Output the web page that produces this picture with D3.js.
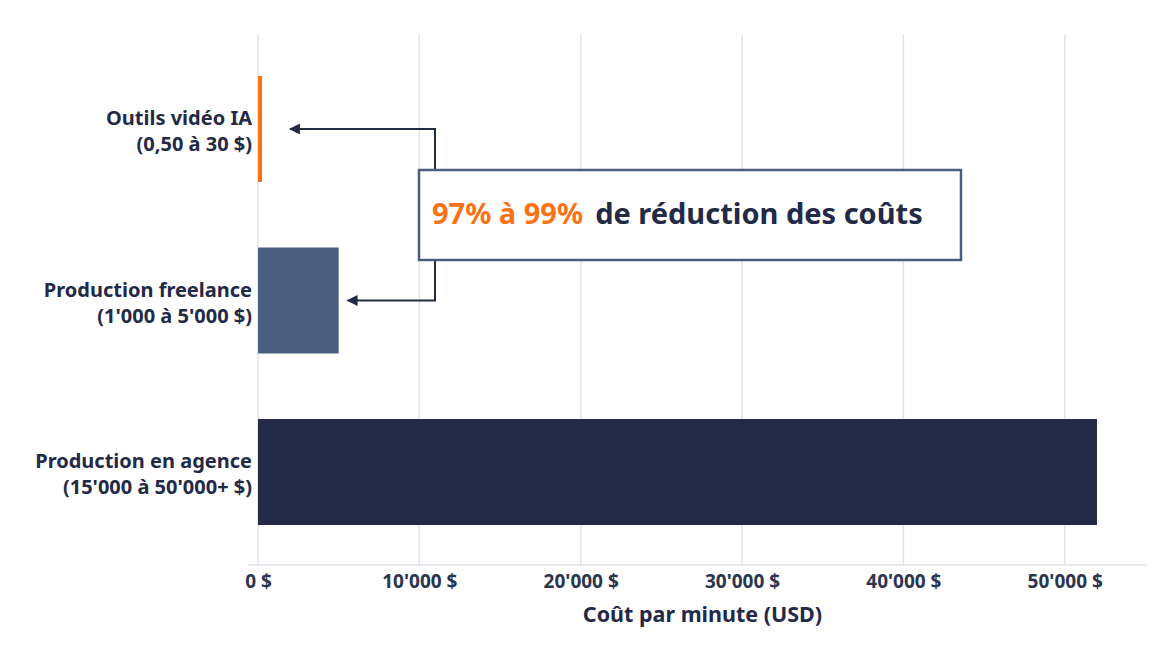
<!DOCTYPE html>
<html>
<head>
<meta charset="utf-8">
<script src="https://cdn.jsdelivr.net/npm/d3@7"></script>
<style>
  body { margin: 0; background: #fff; }
  svg { display: block; font-family: "Noto Sans", "Lato", sans-serif; }
</style>
</head>
<body>
<svg id="chart" width="1167" height="647"></svg>
<script>
'use strict';
/*
 *	Data
 */
var categories = ["ia", "freelance", "agence"];
var labelLine1 = ["Outils vidéo IA", "Production freelance", "Production en agence"];
var labelLine2 = ["(0,50 à 30 $)", "(1'000 à 5'000 $)", "(15'000 à 50'000+ $)"];
var costs = [250, 5000, 52000];
var barColors = ["#f97316", "#4a5e80", "#222a47"];
var tickValues = [0, 10000, 20000, 30000, 40000, 50000];
var axisTitle = "Coût par minute (USD)";
var calloutHighlight = "97% à 99%";
var calloutText = "de réduction des coûts";

var navy = "#232a47";
var svg = d3.select("#chart");

var x = d3.scaleLinear().domain([0, 55100]).range([258, 1147]);
var y = d3.scaleBand().domain(categories).range([35, 566])
	.paddingInner(0.382).paddingOuter(0.239);

// grid
svg.append("g").selectAll("line").data(tickValues).join("line")
	.attr("x1", function(d){ return x(d); })
	.attr("x2", function(d){ return x(d); })
	.attr("y1", 35).attr("y2", 565)
	.attr("stroke", "#dfe2e8").attr("stroke-width", 1.5);

// axis line
svg.append("line")
	.attr("x1", 248).attr("x2", 1147).attr("y1", 565).attr("y2", 565)
	.attr("stroke", "#dfe2e8").attr("stroke-width", 1.5);

// bars
svg.append("g").selectAll("rect").data(categories).join("rect")
	.attr("x", x(0))
	.attr("y", function(d){ return y(d); })
	.attr("width", function(d, i){ return x(costs[i]) - x(0); })
	.attr("height", y.bandwidth())
	.attr("fill", function(d, i){ return barColors[i]; });

// x axis
var fmt = function(d){ return d3.format(",")(d).replace(/,/g, "'") + " $"; };
var xAxis = svg.append("g").attr("transform", "translate(0,565)")
	.call(d3.axisBottom(x).tickValues(tickValues).tickFormat(fmt).tickSize(0).tickPadding(10));
xAxis.select(".domain").remove();
xAxis.selectAll("text")
	.attr("font-family", "'Noto Sans', Lato, sans-serif")
	.attr("font-size", 19).attr("font-weight", 700).attr("fill", "#2c3550");

svg.append("text")
	.attr("x", (x.range()[0] + x.range()[1]) / 2).attr("y", 622)
	.attr("text-anchor", "middle")
	.attr("font-size", 21.5).attr("font-weight", 700).attr("fill", navy)
	.text(axisTitle);

// category labels
var labels = svg.append("g").selectAll("text").data(categories).join("text")
	.attr("text-anchor", "end")
	.attr("font-size", 20).attr("font-weight", 700).attr("fill", navy);
labels.append("tspan")
	.attr("x", 252)
	.attr("y", function(d){ return y(d) + y.bandwidth() / 2 - 4; })
	.text(function(d, i){ return labelLine1[i]; });
labels.append("tspan")
	.attr("x", 252)
	.attr("y", function(d){ return y(d) + y.bandwidth() / 2 + 22; })
	.text(function(d, i){ return labelLine2[i]; });

// arrows
svg.append("defs").append("marker")
	.attr("id", "arrow").attr("viewBox", "0 0 10 10")
	.attr("refX", 9).attr("refY", 5)
	.attr("markerWidth", 5.5).attr("markerHeight", 5.5)
	.attr("orient", "auto")
	.append("path").attr("d", "M0,0 L10,5 L0,10 Z").attr("fill", navy);

var boxX = 419, boxY = 170, boxW = 542, boxH = 90, elbowX = 435;
var yIa = y("ia") + y.bandwidth() / 2;
var yFree = y("freelance") + y.bandwidth() / 2;

svg.append("path")
	.attr("d", "M" + elbowX + "," + boxY + " V" + yIa + " H" + (x(costs[0]) + 28))
	.attr("fill", "none").attr("stroke", navy).attr("stroke-width", 2)
	.attr("marker-end", "url(#arrow)");
svg.append("path")
	.attr("d", "M" + elbowX + "," + (boxY + boxH) + " V" + yFree + " H" + (x(costs[1]) + 9))
	.attr("fill", "none").attr("stroke", navy).attr("stroke-width", 2)
	.attr("marker-end", "url(#arrow)");

// callout box
svg.append("rect")
	.attr("x", boxX).attr("y", boxY).attr("width", boxW).attr("height", boxH)
	.attr("fill", "#fff").attr("stroke", "#4a5e80").attr("stroke-width", 2.5);

var callout = svg.append("text")
	.attr("x", boxX + 13).attr("y", boxY + 54)
	.attr("font-size", 29).attr("font-weight", 700);
callout.append("tspan").attr("fill", "#f97316").text(calloutHighlight);
callout.append("tspan").attr("fill", navy).attr("dx", 12).text(calloutText);
</script>
</body>
</html>
